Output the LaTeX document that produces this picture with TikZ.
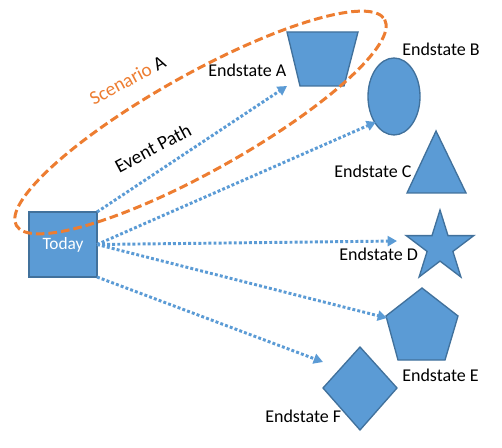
\documentclass[tikz,border=0pt]{standalone}
\usepackage{fontspec}
\setmainfont{Carlito}
\usetikzlibrary{arrows.meta}
\definecolor{shapefill}{HTML}{5B9BD5}
\definecolor{shapeline}{HTML}{41719C}
\definecolor{scen}{HTML}{ED7D31}
\begin{document}
\begin{tikzpicture}[x=0.75pt,y=-0.75pt,
  shp/.style={fill=shapefill,draw=shapeline,line width=1pt,line join=miter},
  lbl/.style={anchor=base west,inner sep=0pt,font=\fontsize{13.5}{16}\selectfont},
  rlbl/.style={rotate=28,inner sep=0pt,font=\fontsize{14.5}{17}\selectfont},
  evpath/.style={draw=shapefill,line width=2.2pt,dash pattern=on 2.2pt off 1.6pt,
    -{Triangle[length=7pt,width=7.5pt]}}]
\useasboundingbox (0,0) rectangle (502,448);

% shapes
\node[shp,minimum width=51pt,minimum height=48.75pt,inner sep=0pt,outer sep=0pt,
  text=white,font=\fontsize{13}{15}\selectfont] (today) at (63,244.5) {Today};
\path[shp] (287,32) -- (358,32) -- (344,86) -- (300,86) -- cycle;
\path[shp] (394,96.5) ellipse [x radius=26, y radius=38.5];
\path[shp] (436,131) -- (466,193) -- (407,193) -- cycle;
\path[shp] (440,210) -- (448,235.6) -- (473.8,235.6) -- (452.9,251.4) -- (460.9,277)
  -- (440,261.1) -- (419.1,277) -- (427.1,251.4) -- (406.2,235.6) -- (432,235.6) -- cycle;
\path[shp] (422,288) -- (458,316) -- (445,360) -- (398,360) -- (386,316) -- cycle;
\path[shp] (360,347) -- (397,388) -- (360,430) -- (323,388) -- cycle;

% labels
\node[lbl] (la) at (208,77) {Endstate A};
\node[lbl] (lb) at (402,56) {Endstate B};
\node[lbl] (lc) at (334,178) {Endstate C};
\node[lbl] (ld) at (339,261) {Endstate D};
\node[lbl] (le) at (402,381) {Endstate E};
\node[lbl] (lf) at (265,422) {Endstate F};

% arrow ends
\coordinate (ta) at (287,86);
\coordinate (tb) at (376,122);
\coordinate (td) at (397,241);
\coordinate (te) at (387,318);
\coordinate (tf) at (323,362);

\draw[evpath] (today.north east) -- (ta);
\draw[evpath] (today.east) -- (tb);
\draw[evpath] (today.east) -- (td);
\draw[evpath] (today.east) -- (te);
\draw[evpath] (today.south east) -- (tf);

% scenario ellipse
\draw[scen,line width=2.25pt,dash pattern=on 6.5pt off 3pt,
  rotate around={29.2:(200.5,122.5)}] (200.5,122.5) ellipse [x radius=211, y radius=48.6];

\node[rlbl] (scn) at (127.5,80) {\textcolor{scen}{Scenario} A};
\node[rlbl] (evp) at (153,148) {Event Path};
\end{tikzpicture}
\end{document}
